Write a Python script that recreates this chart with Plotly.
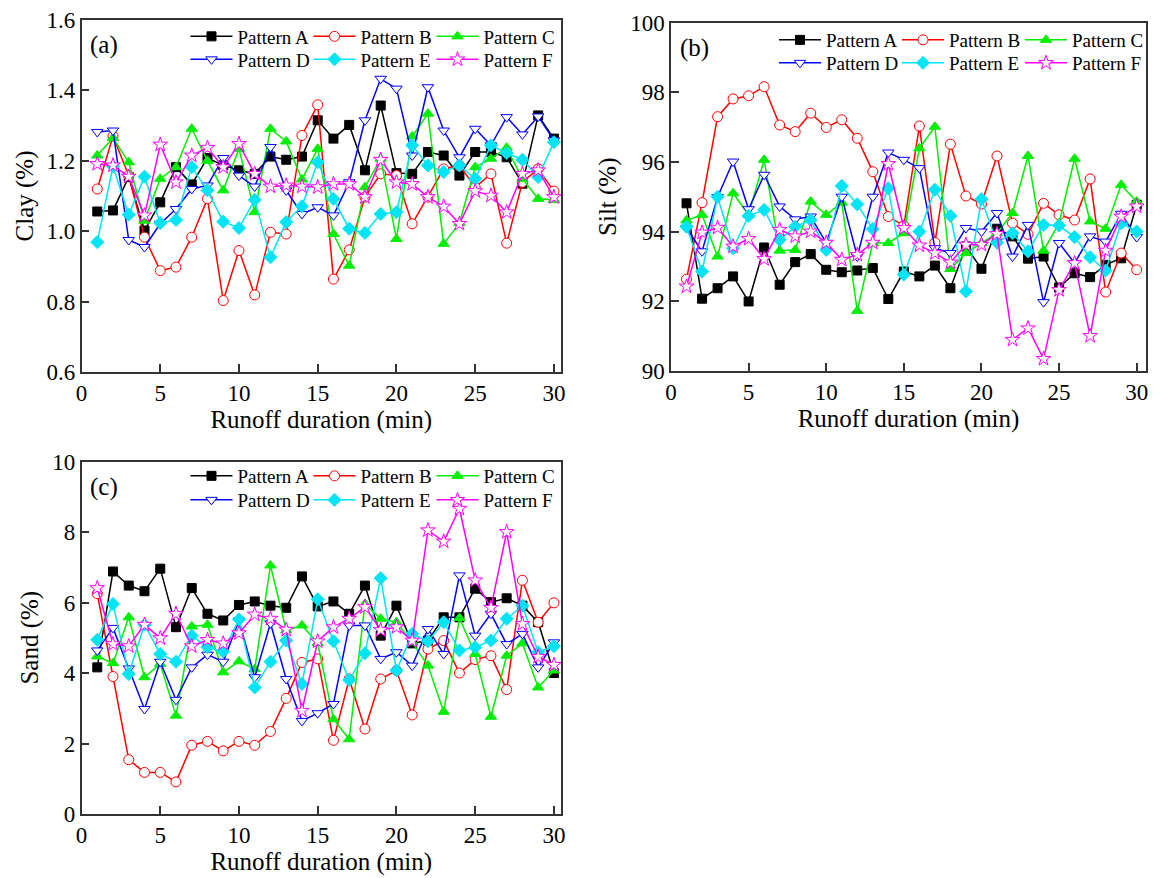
import plotly.graph_objects as go

minutes = list(range(1, 31))
patterns = ["Pattern A", "Pattern B", "Pattern C", "Pattern D", "Pattern E", "Pattern F"]

clay_A = [1.056,1.059,1.154,1.002,1.082,1.182,1.133,1.208,1.187,1.173,1.163,1.212,1.203,1.212,1.315,1.263,1.302,1.173,1.357,1.165,1.163,1.225,1.215,1.158,1.225,1.225,1.21,1.135,1.329,1.263]
clay_B = [1.12,1.27,1.158,0.983,0.888,0.898,0.983,1.092,0.803,0.945,0.819,0.997,0.992,1.272,1.359,0.864,0.947,1.097,1.163,1.158,1.021,1.097,1.177,1.187,1.125,1.163,0.966,1.139,1.177,1.114]
clay_C = [1.215,1.265,1.196,1.03,1.149,1.182,1.291,1.2,1.116,1.234,1.054,1.291,1.255,1.147,1.234,0.992,0.902,1.125,1.206,0.978,1.269,1.334,0.964,1.023,1.182,1.206,1.237,1.149,1.092,1.089]
clay_D = [1.282,1.286,0.975,0.955,1.021,1.063,1.12,1.13,1.208,1.158,1.127,1.239,1.116,1.049,1.068,1.045,1.139,1.315,1.433,1.405,1.215,1.409,1.286,1.21,1.291,1.244,1.324,1.275,1.326,1.258]
clay_E = [0.969,1.184,1.047,1.155,1.023,1.032,1.182,1.116,1.027,1.009,1.089,0.926,1.026,1.071,1.196,1.092,1.007,0.995,1.049,1.054,1.244,1.187,1.168,1.187,1.149,1.244,1.222,1.203,1.154,1.253]
clay_F = [1.191,1.187,1.155,1.045,1.246,1.139,1.215,1.237,1.182,1.248,1.163,1.127,1.13,1.127,1.125,1.134,1.134,1.097,1.203,1.139,1.134,1.097,1.07,1.021,1.114,1.101,1.054,1.163,1.173,1.097]

silt_A = [94.81,92.07,92.37,92.71,91.99,93.54,92.47,93.12,93.35,92.9,92.83,92.88,92.95,92.06,92.85,92.71,93.02,92.37,93.57,92.93,94.08,93.86,93.22,93.28,92.39,92.8,92.69,93.04,93.23,94.77]
silt_B = [92.63,94.83,97.3,97.81,97.9,98.16,97.06,96.87,97.4,96.99,97.21,96.68,95.72,94.43,94.17,97.03,93.68,96.51,95.02,94.79,96.17,94.24,93.92,94.81,94.48,94.33,95.51,92.26,93.38,92.9]
silt_C = [94.32,94.48,93.28,95.1,94.48,96.06,93.45,93.47,94.86,94.48,94.83,91.72,93.67,93.67,93.95,96.39,97.01,92.92,93.38,93.67,93.95,94.53,96.17,93.45,94.24,96.09,94.29,94.08,95.34,94.86]
silt_D = [94.1,93.43,94.99,96.01,94.64,95.63,94.72,94.35,94.43,93.67,95.0,93.28,95.0,96.27,96.06,95.82,93.52,93.38,94.1,94.0,94.53,93.28,94.19,91.97,93.67,93.09,93.86,93.71,94.51,93.84]
silt_E = [94.14,92.85,95.0,93.52,94.45,94.62,93.76,94.14,94.33,93.47,95.31,94.78,94.07,95.24,92.76,94.0,95.2,94.45,92.28,94.93,93.68,93.95,93.43,94.19,94.17,93.84,93.26,92.88,94.24,94.0]
silt_F = [92.42,93.97,94.11,93.57,93.79,93.21,94.05,93.86,94.0,93.68,93.19,93.33,93.68,95.94,94.1,93.6,93.38,93.11,93.62,93.62,93.93,90.89,91.22,90.34,92.32,93.09,91.0,93.45,94.43,94.72]

sand_A = [4.16,6.88,6.48,6.32,6.96,5.3,6.41,5.68,5.49,5.93,6.03,5.91,5.85,6.74,5.89,6.03,5.68,6.48,5.06,5.91,4.84,4.92,5.58,5.58,6.39,6.01,6.12,5.91,5.44,4.0]
sand_B = [6.25,3.9,1.54,1.18,1.18,0.91,1.95,2.06,1.79,2.06,1.95,2.34,3.28,4.3,4.4,2.09,3.83,2.41,3.83,4.07,2.81,4.68,4.92,4.0,4.38,4.49,3.53,6.63,5.44,5.99]
sand_C = [4.47,4.28,5.58,3.88,4.26,2.79,5.32,5.37,4.02,4.33,4.11,7.05,5.21,5.35,4.85,2.69,2.12,5.96,5.54,5.44,4.87,4.21,2.9,5.56,4.54,2.76,4.49,4.84,3.59,4.07]
sand_D = [4.64,5.28,4.13,2.98,4.32,3.24,4.16,4.52,4.32,5.49,3.88,5.41,3.83,2.64,2.86,3.12,5.35,5.35,4.4,4.59,4.21,5.25,4.54,6.77,5.06,5.68,4.82,5.11,4.16,4.87]
sand_E = [4.94,5.96,3.97,5.37,4.54,4.32,5.06,4.73,4.61,5.52,3.59,4.32,4.92,3.69,6.09,4.9,3.8,4.56,6.69,4.07,5.11,4.9,5.44,4.64,4.73,4.92,5.54,5.91,4.59,4.76]
sand_F = [6.41,4.82,4.76,5.37,4.99,5.68,4.76,4.94,4.84,5.13,5.66,5.54,5.23,2.93,4.9,5.3,5.54,5.87,5.22,5.3,4.92,8.05,7.73,8.66,6.63,5.85,8.0,5.39,4.46,4.23]

clay = [clay_A, clay_B, clay_C, clay_D, clay_E, clay_F]
silt = [silt_A, silt_B, silt_C, silt_D, silt_E, silt_F]
sand = [sand_A, sand_B, sand_C, sand_D, sand_E, sand_F]

W, H = 1164, 878
FONT = "Liberation Serif"

colors = ["#000000", "#FF0000", "#00EE00", "#0000FF", "#00E5F5", "#FF00FF"]
symbols = ["square", "circle", "triangle-up", "triangle-down", "diamond", "star"]
fills = ["#000000", "white", "#00EE00", "white", "#00E5F5", "white"]
msizes = [9, 10, 10, 10, 10, 11]

def px_x(p):
    return p / W

def px_y(p):
    return 1 - p / H

# panel pixel boxes: (left, right, top, bottom)
boxes = {
    "a": (81.5, 561, 20, 372),
    "b": (671, 1146, 22.7, 370.7),
    "c": (81.5, 561, 461.5, 814),
}

fig = go.Figure()

panels = [
    ("a", clay, "x", "y", ["legend", "legend2"]),
    ("b", silt, "x2", "y2", ["legend3", "legend4"]),
    ("c", sand, "x3", "y3", ["legend5", "legend6"]),
]

for key, data, xa, ya, legs in panels:
    for i, name in enumerate(patterns):
        fig.add_trace(go.Scatter(
            x=minutes, y=data[i], name=name, mode="lines+markers",
            xaxis=xa, yaxis=ya,
            legend=legs[0] if i < 3 else legs[1],
            line=dict(color=colors[i], width=1.5),
            marker=dict(symbol=symbols[i], size=msizes[i], color=fills[i],
                        line=dict(color=colors[i], width=1)),
        ))

axis_common = dict(
    showline=True, linecolor="#333333", linewidth=1.5, mirror=True,
    ticks="inside", ticklen=8, tickwidth=1.5, tickcolor="#333333",
    showgrid=False, zeroline=False, automargin=False,
    tickfont=dict(family=FONT, size=23, color="black"),
    title_font=dict(family=FONT, size=25, color="black"),
)

def xdom(k):
    l, r, t, b = boxes[k]
    return [px_x(l), px_x(r)]

def ydom(k):
    l, r, t, b = boxes[k]
    return [px_y(b), px_y(t)]

layout = dict(
    width=W, height=H, margin=dict(l=0, r=0, t=0, b=0, autoexpand=False),
    paper_bgcolor="white", plot_bgcolor="white",
    font=dict(family=FONT, color="black"),
    xaxis=dict(domain=xdom("a"), anchor="y", range=[0, 30.45], dtick=5, tick0=0,
               title=dict(text="Runoff duration (min)", standoff=4), **axis_common),
    yaxis=dict(domain=ydom("a"), anchor="x", range=[0.6, 1.6], dtick=0.2, tickformat=".1f",
               title=dict(text="Clay (%)", standoff=6), **axis_common),
    xaxis2=dict(domain=xdom("b"), anchor="y2", range=[0, 30.6], dtick=5, tick0=0,
                title=dict(text="Runoff duration (min)", standoff=4), **axis_common),
    yaxis2=dict(domain=ydom("b"), anchor="x2", range=[90, 100], dtick=2,
                title=dict(text="Silt (%)", standoff=6), **axis_common),
    xaxis3=dict(domain=xdom("c"), anchor="y3", range=[0, 30.45], dtick=5, tick0=0,
                title=dict(text="Runoff duration (min)", standoff=4), **axis_common),
    yaxis3=dict(domain=ydom("c"), anchor="x3", range=[0, 10], dtick=2,
                title=dict(text="Sand (%)", standoff=6), **axis_common),
)

legend_rows = {
    "legend": (185.5, 36.5), "legend2": (185.5, 59.5),
    "legend3": (774, 40), "legend4": (774, 63),
    "legend5": (185.5, 476), "legend6": (185.5, 500),
}
for lg, (lx, ly) in legend_rows.items():
    layout[lg] = dict(
        x=px_x(lx), y=px_y(ly), xanchor="left", yanchor="middle",
        orientation="h", bgcolor="rgba(0,0,0,0)", borderwidth=0,
        font=dict(family=FONT, size=19, color="black"),
        itemwidth=42, entrywidth=66, entrywidthmode="pixels",
        tracegroupgap=0, itemclick=False,
    )

fig.update_layout(**layout)

for k, lbl in [("a", "(a)"), ("b", "(b)"), ("c", "(c)")]:
    l, r, t, b = boxes[k]
    fig.add_annotation(x=px_x(l + 7), y=px_y(t + 25), xref="paper", yref="paper",
                       text=lbl, showarrow=False, xanchor="left", yanchor="middle",
                       font=dict(family=FONT, size=25, color="black"))

fig.write_html("out.html")
